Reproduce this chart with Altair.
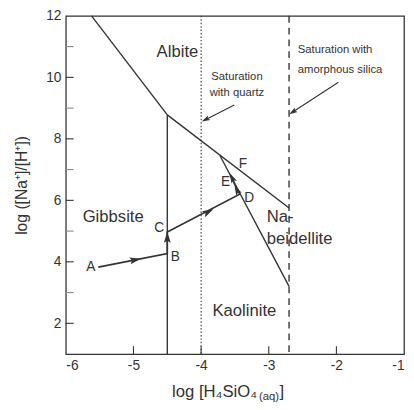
import math
import altair as alt
import pandas as pd

# ---------------- data ----------------
x_tick_values = [-6, -5, -4, -3, -2, -1]
x_inner_ticks = [-5, -4, -3, -2]
y_label_values = [2, 4, 6, 8, 10, 12]
y_major_ticks = [2, 4, 6, 8, 10]
y_minor_ticks = [3, 5, 7, 9, 11]

# phase boundaries (log H4SiO4, log Na/H)
gib_alb_x = [-5.62, -4.5]
gib_alb_y = [12.0, 8.78]
alb_x = [-4.5, -2.7]
alb_y = [8.78, 5.75]
gib_kao_x = [-4.5, -4.5]
gib_kao_y = [1.0, 8.78]
kao_bei_x = [-3.72, -2.7]
kao_bei_y = [7.45, 3.2]
quartz_sat_x = -4.0
silica_sat_x = -2.7

# reaction path A-B-C-D-(E)-F
path_x = [-5.52, -4.5, -4.5, -3.43, -3.57]
path_y = [3.83, 4.27, 4.97, 6.2, 6.82]
path_head_x = [-4.98, -4.5, -3.9, -3.47, -3.54]
path_head_y = [4.06, 4.78, 5.62, 6.33, 6.72]
path_head_dir = [(1.02, 0.44), (0, 1), (1.07, 1.23), (-0.13, 0.58), (-0.13, 0.58)]

point_names = ["A", "B", "C", "D", "E", "F"]
point_lx = [-5.63, -4.38, -4.62, -3.29, -3.64, -3.38]
point_ly = [3.82, 4.17, 5.09, 6.08, 6.59, 7.19]

field_names = ["Albite", "Gibbsite", "Kaolinite"]
field_x = [-4.35, -5.3, -3.36]
field_y = [10.83, 5.47, 2.41]
bei_lines = ["Na-", "beidellite"]
bei_x = [-3.03, -3.03]
bei_y = [5.44, 4.74]

quartz_text = ["Saturation", "with quartz"]
quartz_tx = [-3.47, -3.47]
quartz_ty = [10.0, 9.49]
silica_text = ["Saturation with", "amorphous silica"]
silica_tx = [-2.57, -2.57]
silica_ty = [10.89, 10.25]
quartz_arrow_x = [-3.51, -3.93]
quartz_arrow_y = [9.10, 8.63]
silica_arrow_x = [-1.97, -2.64]
silica_arrow_y = [9.84, 8.88]

x_title_parts = ["log [H\u2084SiO\u2084", "(aq)", "]"]
y_title = "log ([Na\u207a]/[H\u207a])"

# ---------------- layout ----------------
W, H = 345, 345
XMIN, XMAX, YMIN, YMAX = -6, -1, 1, 12
SX = W / (XMAX - XMIN)
SY = H / (YMAX - YMIN)
INK = "#333333"
FONT = "Liberation Sans"


def angle(dx, dy):
    return math.degrees(math.atan2(dx * SX, dy * SY)) % 360


xs = alt.Scale(domain=[XMIN, XMAX], nice=False, zero=False)
ys = alt.Scale(domain=[YMIN, YMAX], nice=False, zero=False)
x_axis = alt.Axis(values=x_tick_values, ticks=False, domain=False, grid=False,
                  labelFontSize=14, labelFont=FONT, labelColor=INK, labelPadding=5,
                  labelExpr="'' + datum.value", title=None)
y_axis = alt.Axis(values=y_label_values, ticks=False, domain=False, grid=False,
                  labelFontSize=14, labelFont=FONT, labelColor=INK, labelPadding=5,
                  labelExpr="'' + datum.value", title=y_title, titleFontSize=16,
                  titleFont=FONT, titleColor=INK, titleFontWeight="normal",
                  titlePadding=17)


def X(f="x"):
    return alt.X(f"{f}:Q", scale=xs, axis=x_axis)


def Y(f="y"):
    return alt.Y(f"{f}:Q", scale=ys, axis=y_axis)


rows = []
for name, xx, yy in [("gib_alb", gib_alb_x, gib_alb_y), ("alb", alb_x, alb_y),
                     ("gib_kao", gib_kao_x, gib_kao_y), ("kao_bei", kao_bei_x, kao_bei_y)]:
    for i, (a, b) in enumerate(zip(xx, yy)):
        rows.append({"seg": name, "x": a, "y": b, "o": i})
bounds = alt.Chart(pd.DataFrame(rows)).mark_line(color=INK, strokeWidth=1.4).encode(
    x=X(), y=Y(), detail="seg:N", order="o:Q")

vlines = pd.DataFrame({"x": [quartz_sat_x, silica_sat_x], "kind": ["q", "s"]})
quartz_line = alt.Chart(vlines[vlines.kind == "q"]).mark_rule(
    color=INK, strokeWidth=1.1, strokeDash=[1.5, 2]).encode(x=X())
silica_line = alt.Chart(vlines[vlines.kind == "s"]).mark_rule(
    color=INK, strokeWidth=1.4, strokeDash=[7, 5]).encode(x=X())

path_df = pd.DataFrame({"x": path_x, "y": path_y, "o": list(range(len(path_x)))})
path = alt.Chart(path_df).mark_line(color=INK, strokeWidth=1.7).encode(
    x=X(), y=Y(), order="o:Q")

ARROW = "M0,-1L0.55,0.8L0,0.45L-0.55,0.8Z"
heads = pd.DataFrame({
    "x": path_head_x + [quartz_arrow_x[1], silica_arrow_x[1]],
    "y": path_head_y + [quartz_arrow_y[1], silica_arrow_y[1]],
    "a": [angle(dx, dy) for dx, dy in path_head_dir] + [
        angle(quartz_arrow_x[1] - quartz_arrow_x[0], quartz_arrow_y[1] - quartz_arrow_y[0]),
        angle(silica_arrow_x[1] - silica_arrow_x[0], silica_arrow_y[1] - silica_arrow_y[0])],
    "s": [160, 160, 160, 130, 130] + [90, 90],
})
arrowheads = alt.Chart(heads).mark_point(shape=ARROW, filled=True, color=INK, opacity=1).encode(
    x=X(), y=Y(), angle=alt.Angle("a:Q", scale=None), size=alt.Size("s:Q", scale=None))

ann_rows = []
for name, xx, yy in [("q", quartz_arrow_x, quartz_arrow_y), ("s", silica_arrow_x, silica_arrow_y)]:
    for i, (a, b) in enumerate(zip(xx, yy)):
        ann_rows.append({"seg": name, "x": a, "y": b, "o": i})
ann_lines = alt.Chart(pd.DataFrame(ann_rows)).mark_line(color=INK, strokeWidth=1.1).encode(
    x=X(), y=Y(), detail="seg:N", order="o:Q")

# inward ticks
ytick_df = pd.DataFrame({"y": y_major_ticks + y_minor_ticks,
                         "c": [INK] * len(y_major_ticks) + ["#888888"] * len(y_minor_ticks)})
yticks = alt.Chart(ytick_df).mark_rule(strokeWidth=1.1).encode(
    y=Y(), x=alt.value(0), x2=alt.value(8), color=alt.Color("c:N", scale=None))
xtick_df = pd.DataFrame({"x": x_inner_ticks})
xticks = alt.Chart(xtick_df).mark_rule(color=INK, strokeWidth=1.1).encode(
    x=X(), y=alt.value(H), y2=alt.value(H - 8))

fields = alt.Chart(pd.DataFrame({"x": field_x, "y": field_y, "t": field_names})).mark_text(
    font=FONT, fontSize=17, color=INK, align="center", baseline="middle").encode(
    x=X(), y=Y(), text="t:N")
bei = alt.Chart(pd.DataFrame({"x": bei_x, "y": bei_y, "t": bei_lines})).mark_text(
    font=FONT, fontSize=17, color=INK, align="left", baseline="middle").encode(
    x=X(), y=Y(), text="t:N")
letters = alt.Chart(pd.DataFrame({"x": point_lx, "y": point_ly, "t": point_names})).mark_text(
    font=FONT, fontSize=14, color=INK, align="center", baseline="middle").encode(
    x=X(), y=Y(), text="t:N")
qtext = alt.Chart(pd.DataFrame({"x": quartz_tx, "y": quartz_ty, "t": quartz_text})).mark_text(
    font=FONT, fontSize=11.5, color=INK, align="center", baseline="middle").encode(
    x=X(), y=Y(), text="t:N")
stext = alt.Chart(pd.DataFrame({"x": silica_tx, "y": silica_ty, "t": silica_text})).mark_text(
    font=FONT, fontSize=11.5, color=INK, align="left", baseline="middle").encode(
    x=X(), y=Y(), text="t:N")

# x axis title with subscript
xt_df = pd.DataFrame({"t": x_title_parts})
xt1 = alt.Chart(xt_df.iloc[[0]]).mark_text(font=FONT, fontSize=17, color=INK, align="right",
                                           baseline="alphabetic").encode(
    text="t:N", x=alt.value(195), y=alt.value(389))
xt2 = alt.Chart(xt_df.iloc[[1]]).mark_text(font=FONT, fontSize=11.5, color=INK, align="left",
                                           baseline="alphabetic").encode(
    text="t:N", x=alt.value(197), y=alt.value(392))
xt3 = alt.Chart(xt_df.iloc[[2]]).mark_text(font=FONT, fontSize=17, color=INK, align="left",
                                           baseline="alphabetic").encode(
    text="t:N", x=alt.value(218), y=alt.value(389))

chart = alt.layer(
    bounds, quartz_line, silica_line, path, ann_lines, arrowheads, yticks, xticks,
    fields, bei, letters, qtext, stext, xt1, xt2, xt3,
).properties(
    width=W, height=H,
    autosize=alt.AutoSizeParams(type="none"),
    padding={"left": 59, "top": 4, "right": 2, "bottom": 52},
    background="white",
).configure_view(stroke=INK, strokeWidth=1.3)

chart.save("out.html", embed_options={"renderer": "svg", "actions": False})
